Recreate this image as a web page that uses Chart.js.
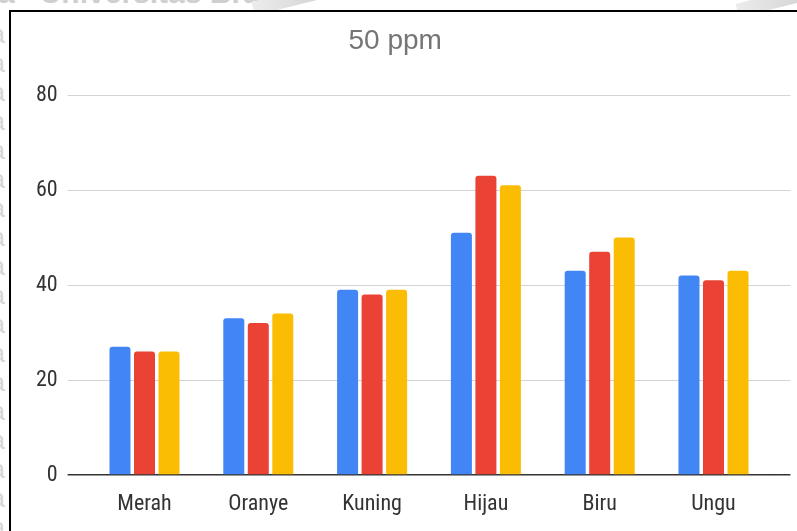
<!DOCTYPE html>
<html>
<head>
<meta charset="utf-8">
<script src="https://cdn.jsdelivr.net/npm/chart.js@4"></script>
<style>
  html, body { margin: 0; padding: 0; background: #fff; overflow: hidden; }
  #page { position: relative; width: 797px; height: 531px; overflow: hidden; background: #fff; }
  #mark-top { position: absolute; left: -2px; top: -24px; font: bold 30px 'Liberation Sans', Arial, sans-serif; color: #cfcfcf; white-space: pre; }
  .mark-a { position: absolute; left: -9px; font: 25px 'Liberation Sans', Arial, sans-serif; color: #d6d6d6; }
  #strip { position: absolute; left: 0; top: 0; width: 797px; height: 10px; overflow: hidden; }
  .swoosh { position: absolute; height: 14px; background: linear-gradient(90deg, #ececec, #d0d0d0); transform: rotate(-14deg); }
  #frame { position: absolute; left: 9px; top: 10px; width: 800px; height: 530px; border-top: 2px solid #000; border-left: 2px solid #000; }
  #wrap { position: absolute; left: 0; top: 0; width: 797px; height: 531px; }
</style>
</head>
<body>
<div id="page">
  <div id="mark-top">a   Universitas Braw</div>
  <div id="strip">
    <div class="swoosh" style="left:252px; top:-8px; width:80px;"></div>
    <div class="swoosh" style="left:736px; top:-6px; width:80px;"></div>
  </div>
  <div id="frame"></div>
  <div id="wrap"><canvas id="chart"></canvas></div>
</div>
<script>
// Colour categories on the x axis
const categories = ['Merah', 'Oranye', 'Kuning', 'Hijau', 'Biru', 'Ungu'];

// Three measurement series per colour
const series1 = [27, 33, 39, 51, 43, 42];
const series2 = [26, 32, 38, 63, 47, 41];
const series3 = [26, 34, 39, 61, 50, 43];

// Value axis
const yMin = 0;
const yMax = 80;
const yStep = 20;

const chartTitle = '50 ppm';

// faint repeated letters down the left margin
const page = document.getElementById('page');
for (let y = 20; y < 531; y += 29) {
  const d = document.createElement('div');
  d.className = 'mark-a';
  d.style.top = y + 'px';
  d.textContent = 'a';
  page.insertBefore(d, page.firstChild);
}

const narrow = "'Liberation Sans Narrow', 'Arial Narrow', 'Roboto Condensed', sans-serif";
const gridColor = ctx => (ctx.tick && ctx.tick.value === 0) ? '#333333' : '#d4d4d4';
const gridWidth = ctx => (ctx.tick && ctx.tick.value === 0) ? 1.5 : 1;

const barStyle = {
  borderWidth: 0,
  borderRadius: { topLeft: 3, topRight: 3, bottomLeft: 0, bottomRight: 0 },
  categoryPercentage: 0.646,
  barPercentage: 0.857
};

new Chart(document.getElementById('chart'), {
  type: 'bar',
  data: {
    labels: categories,
    datasets: [
      Object.assign({ label: '1', data: series1, backgroundColor: '#4285F4' }, barStyle),
      Object.assign({ label: '2', data: series2, backgroundColor: '#EA4335' }, barStyle),
      Object.assign({ label: '3', data: series3, backgroundColor: '#FBBC04' }, barStyle)
    ]
  },
  options: {
    responsive: true,
    maintainAspectRatio: false,
    animation: false,
    layout: { padding: { top: 13, left: 0, right: 6.6, bottom: 0 } },
    plugins: {
      legend: { display: false },
      tooltip: { enabled: false },
      title: {
        display: true,
        text: chartTitle,
        color: '#757575',
        font: { family: "'Liberation Sans', Arial, sans-serif", size: 28, weight: 'normal' },
        padding: { top: 11, bottom: 37.4 }
      }
    },
    scales: {
      x: {
        grid: { display: false },
        border: { display: false },
        ticks: {
          color: '#333333',
          font: { family: narrow, size: 22 },
          padding: 8,
          maxRotation: 0,
          autoSkip: false
        },
        afterFit: s => { s.height = 56; }
      },
      y: {
        min: yMin,
        max: yMax,
        border: { display: false },
        grid: { color: gridColor, lineWidth: gridWidth, drawTicks: true, tickLength: 20 },
        ticks: {
          stepSize: yStep,
          color: '#333333',
          font: { family: narrow, size: 22 },
          padding: 10
        },
        afterFit: s => { s.width = 87.6; }
      },
      y2: {
        position: 'right',
        min: yMin,
        max: yMax,
        border: { display: false },
        grid: { color: gridColor, lineWidth: gridWidth, drawOnChartArea: false, drawTicks: true, tickLength: 20 },
        ticks: { stepSize: yStep, display: false },
        afterFit: s => { s.width = 20; }
      }
    }
  }
});
</script>
</body>
</html>
